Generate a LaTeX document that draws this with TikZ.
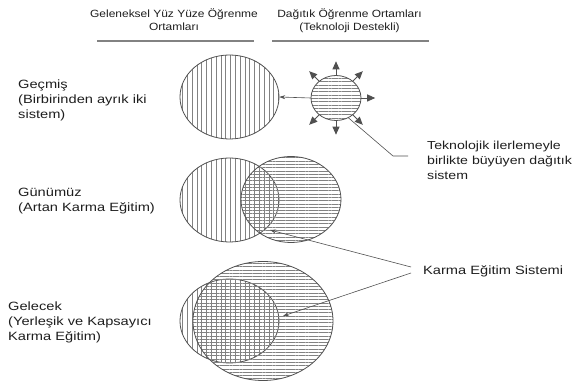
\documentclass[tikz,border=0pt]{standalone}
\usepackage{fontspec}
\setmainfont{Liberation Sans}[FakeStretch=1.22]
\newfontfamily\hdrfamily{Liberation Sans}[FakeStretch=1.14]
\usetikzlibrary{shapes.geometric,arrows.meta,patterns.meta}

\begin{document}
\begin{tikzpicture}[x=1pt,y=-1pt,
    blob/.style={shape=ellipse,draw=blend_line,line width=0.8pt,inner sep=0pt},
    vhatch/.style={blob,pattern={Lines[angle=90,distance=4.8pt,line width=0.45pt]},pattern color=blend_hatch},
    hhatch/.style={blob,pattern={Lines[angle=0,distance=3.3pt,line width=0.45pt]},pattern color=blend_hatch},
    lbl/.style={align=left,inner sep=0pt,font=\fontsize{12}{15}\selectfont,text=blend_text},
    hdr/.style={align=center,inner sep=0pt,font=\hdrfamily\fontsize{10.5}{13.4}\selectfont,text=blend_text},
    hdrline/.style={draw=blend_hatch,line width=1.2pt},
    sunray/.style={draw=blend_line,line width=0.9pt,-{Triangle[length=8pt,width=7pt]}},
    leader/.style={draw=blend_line,line width=0.6pt},
    pointer/.style={leader,-{Stealth[length=6pt,width=4pt]}}]
    \definecolor{blend_line}{RGB}{80,80,80}
    \definecolor{blend_hatch}{RGB}{130,130,130}
    \definecolor{blend_text}{RGB}{30,30,30}
    \useasboundingbox (0,0) rectangle (574,382);

    % column headings (base = last line)
    \node[hdr,anchor=base] (hdr_trad) at (174,30.7) {Geleneksel Yüz Yüze Öğrenme\\Ortamları};
    \node[hdr,anchor=base] (hdr_dist) at (349.5,30.7) {Dağıtık Öğrenme Ortamları\\(Teknoloji Destekli)};
    \draw[hdrline] (97,41) -- (254,41);
    \draw[hdrline] (272,41) -- (429,41);

    % row labels
    \node[lbl,anchor=base west] (past_lbl) at (18,118.3) {Geçmiş\\(Birbirinden ayrık iki\\sistem)};
    \node[lbl,anchor=base west] (now_lbl) at (18,211.7) {Günümüz\\(Artan Karma Eğitim)};
    \node[lbl,anchor=base west] (future_lbl) at (8,341) {Gelecek\\(Yerleşik ve Kapsayıcı\\Karma Eğitim)};
    \node[lbl,anchor=base west,font=\fontsize{11.6}{15}\selectfont] (tek_lbl) at (427,179.3) {Teknolojik ilerlemeyle\\birlikte büyüyen dağıtık\\sistem};
    \node[lbl,anchor=base west] (karma_lbl) at (423,275) {Karma Eğitim Sistemi};

    % past
    \node[vhatch,minimum width=99pt,minimum height=84pt] (past_trad) at (229.5,97) {};
    \node[hhatch,minimum width=50pt,minimum height=45pt] (sun) at (336,98) {};
    \foreach \ang in {0,45,90,135,225,270,315}
        \draw[sunray] (sun.\ang) -- ++(\ang:14pt);
    \draw[pointer] (sun.west) -- (past_trad.east);
    \coordinate (tek_bend) at (393,156);
    \coordinate (tek_end) at (408,156);
    \draw[leader] (sun.-58) -- (tek_bend) -- (tek_end);

    % present
    \node[vhatch,minimum width=99pt,minimum height=84pt] (now_trad) at (229.5,200) {};
    \node[hhatch,minimum width=100pt,minimum height=86pt] (now_dist) at (291,199.5) {};

    % future
    \node[vhatch,minimum width=99pt,minimum height=84pt] (future_trad) at (229.5,321) {};
    \node[hhatch,minimum width=140pt,minimum height=119pt] (future_dist) at (263,321) {};

    % blended pointers
    \coordinate (mix_a) at (411,267);
    \coordinate (mix_b) at (411,273);
    \coordinate (mix_now) at (270,230);
    \coordinate (mix_future) at (283,316);
    \draw[pointer] (mix_a) -- (mix_now);
    \draw[pointer] (mix_b) -- (mix_future);
\end{tikzpicture}
\end{document}
